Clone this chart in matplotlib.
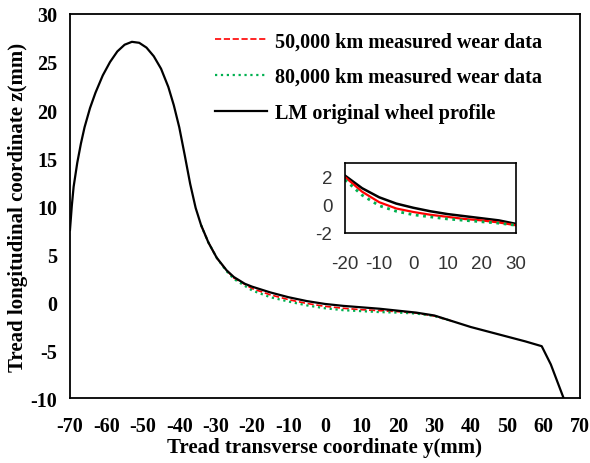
import matplotlib.pyplot as plt

plt.rcParams['axes.unicode_minus'] = False

# 原始轮廓 (LM)
prof_y = [-70, -69.5, -69, -68, -67, -66, -64.5, -63, -61, -59, -57, -55, -53, -51,
          -49, -47, -45, -43, -41.5, -40, -38.5, -37, -35.5, -34, -32, -29.7, -27,
          -25, -22, -20, -15, -10, -5, 0, 5, 10, 15, 20, 25, 30, 35, 40, 45, 50,
          55, 59.5, 62, 65.5]
prof_z = [7.5, 10, 12, 14.5, 16.5, 18.2, 20.2, 21.8, 23.6, 25.0, 26.1, 26.8, 27.1, 27.0,
          26.5, 25.6, 24.3, 22.4, 20.5, 18.2, 15.3, 12.3, 9.8, 8.0, 6.2, 4.6, 3.3,
          2.6, 1.9, 1.6, 1.0, 0.5, 0.1, -0.2, -0.4, -0.55, -0.7, -0.9, -1.1, -1.4, -2.0, -2.6, -3.1, -3.6,
          -4.1, -4.6, -6.5, -10.0]

# 磨耗数据 (只在中间部分和原始轮廓不同)
wear_y = [-34, -32, -29.7, -27, -25, -20, -15, -10, -5, 0, 5, 10, 15, 20, 25, 30, 35]
wear50_z = [8.0, 6.2, 4.6, 3.3, 2.5, 1.4, 0.75, 0.25, -0.15, -0.45, -0.65, -0.8, -0.9, -1.0, -1.15, -1.45, -2.0]
wear80_z = [8.0, 6.2, 4.6, 3.2, 2.4, 1.2, 0.5, 0.05, -0.35, -0.65, -0.85, -0.95, -1.05, -1.1, -1.2, -1.45, -2.0]

# 局部放大图
ins_y = [-20, -15, -10, -5, 0, 5, 10, 15, 20, 25, 30]
ins_lm = [2.1, 1.2, 0.55, 0.1, -0.2, -0.45, -0.65, -0.8, -0.95, -1.1, -1.35]
ins_50 = [2.0, 0.95, 0.2, -0.25, -0.5, -0.7, -0.85, -1.0, -1.1, -1.25, -1.45]
ins_80 = [1.8, 0.7, -0.05, -0.45, -0.7, -0.85, -1.0, -1.1, -1.2, -1.3, -1.45]

red = '#ff0000'
green = '#00b050'
serif = 'Liberation Serif'

fig = plt.figure(figsize=(5.9, 4.64), dpi=100)
ax = fig.add_axes([0.1186, 0.140, 0.8644, 0.8277])

ax.plot(wear_y, wear50_z, color=red, ls='--', lw=1.2, label='50,000 km measured wear data')
ax.plot(wear_y, wear80_z, color=green, ls=':', lw=1.6, label='80,000 km measured wear data')
ax.plot(prof_y, prof_z, color='black', lw=1.6, label='LM original wheel profile')

ax.set_xlim(-70, 70)
ax.set_ylim(-10, 30)
ax.set_xticks(range(-70, 71, 10))
ax.set_yticks(range(-10, 31, 5))
ax.tick_params(axis='x', length=0, pad=13)
ax.tick_params(axis='y', length=0, pad=9)
for lab in ax.get_xticklabels() + ax.get_yticklabels():
    lab.set_fontfamily(serif)
    lab.set_fontweight('bold')
    lab.set_fontsize(14.5)
for s in ax.spines.values():
    s.set_linewidth(1.3)

ax.set_xlabel('Tread transverse coordinate y(mm)', fontfamily=serif, fontweight='bold',
              fontsize=15, labelpad=1)
ax.set_ylabel('Tread longitudinal coordinate z(mm)', fontfamily=serif, fontweight='bold',
              fontsize=15, labelpad=2)

leg = ax.legend(loc='upper left', bbox_to_anchor=(0.347, 0.952), bbox_transform=fig.transFigure,
                frameon=False, borderpad=0, handlelength=2.6, handletextpad=0.4,
                labelspacing=0.78, prop={'family': serif, 'weight': 'bold', 'size': 14.5})

# 放大图
axi = fig.add_axes([0.5847, 0.4957, 0.2899, 0.1509])
axi.plot(ins_y, ins_lm, color='black', lw=1.8)
axi.plot(ins_y, ins_50, color=red, lw=1.6)
axi.plot(ins_y, ins_80, color=green, ls=':', lw=2)
axi.set_xlim(-20, 30)
axi.set_ylim(-2, 3)
axi.set_xticks(range(-20, 31, 10))
axi.set_yticks([-2, 0, 2])
axi.tick_params(axis='x', length=0, labelsize=13.5, colors='#333333', pad=16)
axi.tick_params(axis='y', length=0, labelsize=13.5, colors='#333333', pad=9)
for lab in axi.get_xticklabels() + axi.get_yticklabels():
    lab.set_fontfamily('Liberation Sans')
for s in axi.spines.values():
    s.set_linewidth(1.2)

fig.savefig('out.png')
